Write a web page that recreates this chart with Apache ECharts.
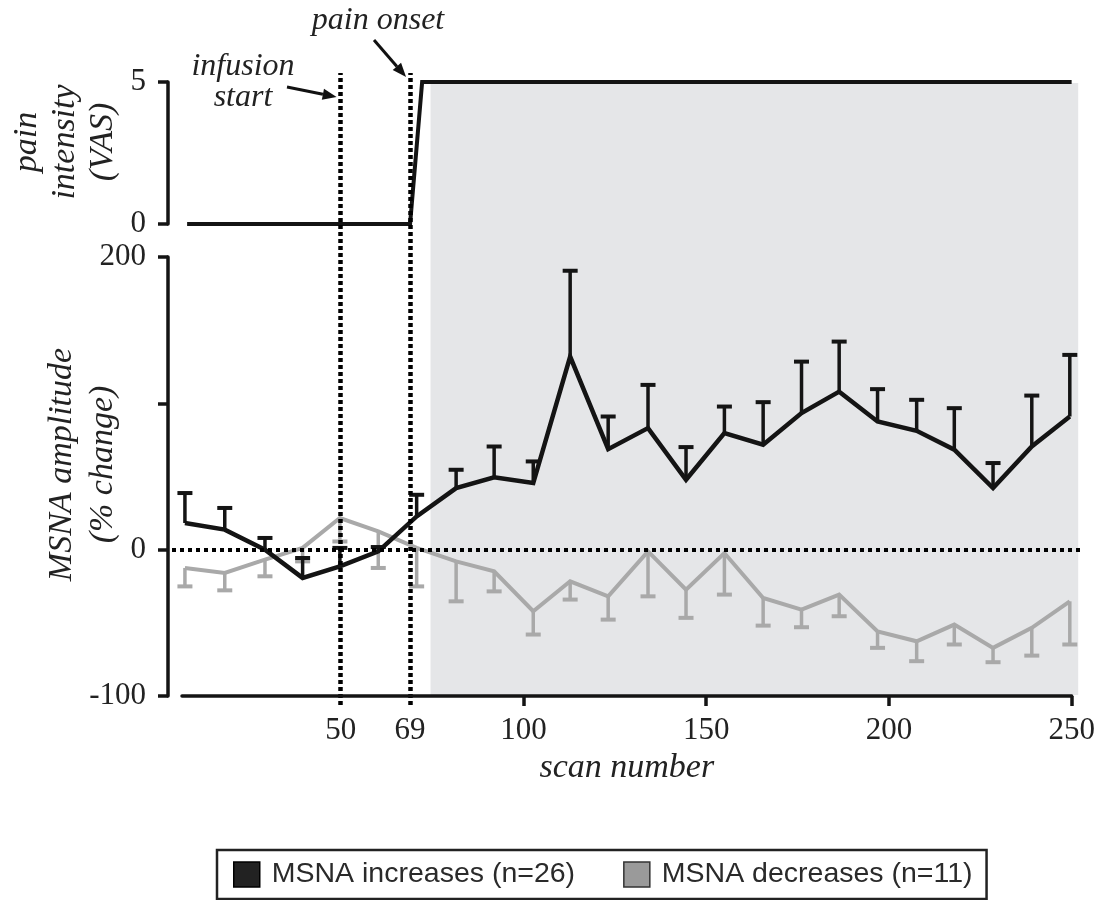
<!DOCTYPE html>
<html><head><meta charset="utf-8">
<script src="https://cdn.jsdelivr.net/npm/echarts@6/dist/echarts.min.js"></script>
<style>html,body{margin:0;padding:0;background:#fff}#c{width:1105px;height:900px}</style>
</head><body><div id="c"></div>
<script>
// ---- data ----
const scanBins = [7.4, 18.3, 29.3, 39.6, 49.8, 60.3, 70.8, 81.6, 92, 102.7, 112.8, 123.2,
                  134.1, 144.5, 155, 165.6, 176.1, 186.4, 196.9, 207.6, 217.9, 228.5, 239.1, 249.5];
const increaseMean = [18.2, 13.7, 0, -19.3, -11.4, -1.2, 22.7, 42.1, 49.4, 45.5, 131.9, 68.7,
                      83.1, 47.8, 79.7, 71.7, 93.3, 108, 87.6, 81.2, 68.3, 42.1, 70.5, 91];
const increaseSEM  = [20.5, 14.8, 8, 13.6, 12.6, 3, 14.8, 12.5, 21.1, 14.8, 58.7, 22.3,
                      29.5, 22.3, 18.1, 29.1, 35.2, 34.2, 22.1, 21.2, 28.4, 17.1, 34.8, 42.1];
const decreaseMean = [-12.5, -15.9, -6.8, 1.2, 21.6, 12.5, 1.2, -8, -14.8, -42.1, -21.6, -31.9,
                      -1.2, -27.3, -2.3, -33, -41, -30.7, -55.8, -62.6, -51.2, -67.1, -53.4, -35.3];
const decreaseSEM  = [12.6, 11.9, 11.4, 9.2, 16, 25, 26.3, 27.3, 13.7, 15.9, 12.5, 15.9,
                      30.7, 19.3, 28.4, 18.9, 12, 14.8, 11.3, 13.6, 13.6, 9.8, 19, 29.5];
const painScan = [8, 69, 72.3, 250];
const painVAS  = [0, 0, 5, 5];
const eventScans = [50, 69];          // infusion start, pain onset
const painPeriod = [74.6, 251.8];     // shaded period
const xTickValues  = [100, 150, 200, 250];
const xLabelValues = [50, 69, 100, 150, 200, 250];
const seriesNames = ['MSNA increases (n=26)', 'MSNA decreases (n=11)'];

// ---- layout ----
const XMIN = 6.6, XMAX = 250, LEFT = 182, PXU = 3.655;
const SERIF = "'Liberation Serif','Times New Roman',serif";
const SANS = "'Liberation Sans',Arial,sans-serif";
const INK = '#141414', GREY = '#a9a9a9';

function errorBar(dir, color) {
  return function (params, api) {
    const x = api.value(0), m = api.value(1), e = api.value(2);
    const p0 = api.coord([x, m]);
    const p1 = api.coord([x, m + dir * e]);
    const half = 7.5;
    return {type: 'group', children: [
      {type: 'line', shape: {x1: p0[0], y1: p0[1], x2: p1[0], y2: p1[1]}, style: {stroke: color, lineWidth: 3.5}},
      {type: 'line', shape: {x1: p1[0] - half, y1: p1[1], x2: p1[0] + half, y2: p1[1]}, style: {stroke: color, lineWidth: 4}}
    ]};
  };
}

const hiddenAxis = (min, max, gi) => ({type: 'value', gridIndex: gi, min, max, show: false, splitLine: {show: false}});
const mainW = (XMAX - XMIN) * PXU;

const option = {
  backgroundColor: '#fff',
  animation: false,
  grid: [
    {left: LEFT, top: 257, width: mainW, height: 439, outerBoundsMode: 'none'},              // 0 MSNA
    {left: LEFT, top: 82, width: mainW, height: 142, outerBoundsMode: 'none'},               // 1 pain
    {left: LEFT, top: 83, width: (painPeriod[1] - XMIN) * PXU, height: 612, outerBoundsMode: 'none'}, // 2 shade
    {left: LEFT, top: 73, width: mainW, height: 632, outerBoundsMode: 'none'},               // 3 event lines
    {left: 172, top: 257, width: 908, height: 439, outerBoundsMode: 'none'}                  // 4 zero line
  ],
  xAxis: [
    {type: 'value', gridIndex: 0, min: XMIN, max: XMAX, z: 10,
     name: 'scan number', nameLocation: 'middle', nameGap: 55, nameMoveOverlap: false,
     nameTextStyle: {fontFamily: SERIF, fontStyle: 'italic', fontSize: 34, color: '#222'},
     axisLine: {show: true, onZero: false, lineStyle: {color: INK, width: 3.5}},
     axisTick: {show: true, length: 10, lineStyle: {color: INK, width: 3.5}, customValues: xTickValues},
     axisLabel: {show: true, margin: 19, fontFamily: SERIF, fontSize: 31, color: '#222', customValues: xLabelValues},
     splitLine: {show: false}},
    hiddenAxis(XMIN, XMAX, 1),
    hiddenAxis(XMIN, painPeriod[1], 2),
    hiddenAxis(XMIN, XMAX, 3),
    hiddenAxis(0, 1, 4)
  ],
  yAxis: [
    {type: 'value', gridIndex: 0, min: -100, max: 200, interval: 100, offset: 14, z: 10,
     name: 'MSNA amplitude\n(% change)', nameLocation: 'middle', nameGap: 44, nameRotate: 90, nameMoveOverlap: false,
     nameTextStyle: {fontFamily: SERIF, fontStyle: 'italic', fontSize: 34, color: '#222', lineHeight: 41, padding: [0, 0, 0, 24]},
     axisLine: {show: true, onZero: false, lineStyle: {color: INK, width: 3.5}},
     axisTick: {show: true, length: 10, lineStyle: {color: INK, width: 3.5}},
     axisLabel: {margin: 22, fontFamily: SERIF, fontSize: 31, color: '#222',
                 formatter: v => (v === 100 ? '' : String(v))},
     splitLine: {show: false}},
    {type: 'value', gridIndex: 1, min: 0, max: 5, interval: 5, offset: 14, z: 10,
     name: 'pain\nintensity\n(VAS)', nameLocation: 'middle', nameGap: 46, nameRotate: 90, nameMoveOverlap: false,
     nameTextStyle: {fontFamily: SERIF, fontStyle: 'italic', fontSize: 34, color: '#222', lineHeight: 38, padding: [0, 0, 0, 22]},
     axisLine: {show: true, onZero: false, lineStyle: {color: INK, width: 3.5}},
     axisTick: {show: true, length: 10, lineStyle: {color: INK, width: 3.5}},
     axisLabel: {margin: 22, fontFamily: SERIF, fontSize: 31, color: '#222'},
     splitLine: {show: false}},
    hiddenAxis(0, 1, 2),
    hiddenAxis(0, 1, 3),
    hiddenAxis(-100, 200, 4)
  ],
  legend: {
    left: 217, top: 850, orient: 'horizontal',
    padding: [10, 14, 10, 16], itemGap: 48,
    borderColor: '#222', borderWidth: 2.5,
    itemWidth: 26, itemHeight: 25,
    textStyle: {fontFamily: SANS, fontSize: 28.5, color: '#2a2a2a', padding: [0, 0, 0, 7]},
    data: [
      {name: seriesNames[0], icon: 'rect', itemStyle: {color: '#222', borderColor: '#000', borderWidth: 1.5}},
      {name: seriesNames[1], icon: 'rect', itemStyle: {color: '#9a9a9a', borderColor: '#333', borderWidth: 1.5}}
    ]
  },
  series: [
    {type: 'line', xAxisIndex: 2, yAxisIndex: 2, data: [], z: -10, silent: true,
     markArea: {silent: true, z: -10, itemStyle: {color: '#e5e6e8'},
                data: [[{xAxis: painPeriod[0]}, {xAxis: painPeriod[1]}]]}},
    {type: 'line', xAxisIndex: 3, yAxisIndex: 3, data: [], z: 1, silent: true,
     markLine: {silent: true, symbol: 'none', label: {show: false},
                lineStyle: {color: '#000', width: 4.5, type: [4, 3]},
                data: eventScans.map(v => ({xAxis: v}))}},
    {type: 'line', xAxisIndex: 4, yAxisIndex: 4, data: [], z: 1, silent: true,
     markLine: {silent: true, symbol: 'none', label: {show: false},
                lineStyle: {color: '#000', width: 4, type: [4, 4]},
                data: [{yAxis: 0}]}},
    {type: 'line', xAxisIndex: 1, yAxisIndex: 1, z: 3, symbol: 'none',
     lineStyle: {color: INK, width: 4, join: 'miter'},
     data: painScan.map((s, i) => [s, painVAS[i]])},
    {type: 'custom', name: seriesNames[1], xAxisIndex: 0, yAxisIndex: 0, z: 2,
     renderItem: errorBar(-1, GREY), encode: {x: 0, y: 1},
     data: scanBins.map((s, i) => [s, decreaseMean[i], decreaseSEM[i]])},
    {type: 'line', name: seriesNames[1], xAxisIndex: 0, yAxisIndex: 0, z: 2, symbol: 'none',
     itemStyle: {color: '#9a9a9a'},
     lineStyle: {color: GREY, width: 4, join: 'miter'},
     data: scanBins.map((s, i) => [s, decreaseMean[i]])},
    {type: 'custom', name: seriesNames[0], xAxisIndex: 0, yAxisIndex: 0, z: 3,
     renderItem: errorBar(1, INK), encode: {x: 0, y: 1},
     data: scanBins.map((s, i) => [s, increaseMean[i], increaseSEM[i]])},
    {type: 'line', name: seriesNames[0], xAxisIndex: 0, yAxisIndex: 0, z: 3, symbol: 'none',
     itemStyle: {color: '#222'},
     lineStyle: {color: INK, width: 4.5, join: 'miter'},
     data: scanBins.map((s, i) => [s, increaseMean[i]])}
  ]
};

const chart = echarts.init(document.getElementById('c'), null, {renderer: 'canvas'});
chart.setOption(option);

// ---- annotations (text + arrows), arrow tips placed at the event lines ----
function arrow(x1, y1, x2, y2) {
  const ang = Math.atan2(y2 - y1, x2 - x1), L = 14, W = 5.5;
  const bx = x2 - L * Math.cos(ang), by = y2 - L * Math.sin(ang);
  const nx = -Math.sin(ang) * W, ny = Math.cos(ang) * W;
  return [
    {type: 'line', shape: {x1, y1, x2: bx, y2: by}, style: {stroke: '#111', lineWidth: 3}},
    {type: 'polygon', shape: {points: [[x2, y2], [bx + nx, by + ny], [bx - nx, by - ny]]}, style: {fill: '#111'}}
  ];
}
const ev0 = chart.convertToPixel({xAxisIndex: 3}, eventScans[0]);
const ev1 = chart.convertToPixel({xAxisIndex: 3}, eventScans[1]);
const annText = (text, x, y) => ({type: 'text', x, y, style: {
  text, fill: '#222', fontFamily: SERIF, fontStyle: 'italic', fontSize: 32, lineHeight: 31,
  align: 'center', verticalAlign: 'middle'}});
chart.setOption({graphic: [
  annText('infusion\nstart', 243, 82),
  annText('pain onset', 378, 21),
  ...arrow(287, 87, ev0 - 4, 97),
  ...arrow(374, 40, ev1 - 4, 77)
]});
</script>
</body></html>
